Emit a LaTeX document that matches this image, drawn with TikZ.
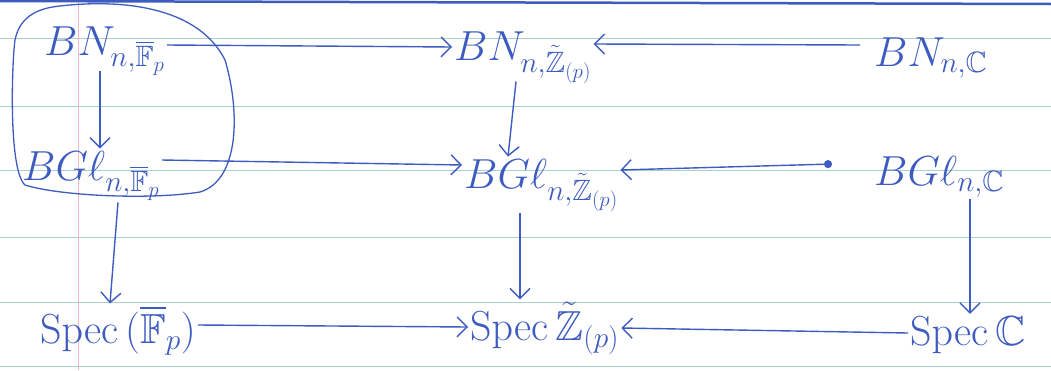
\RequirePackage{fix-cm}
\documentclass[tikz,border=0pt]{standalone}
\usepackage{amsmath,amssymb}
\usetikzlibrary{arrows.meta}
\definecolor{ink}{RGB}{62,92,192}
\definecolor{rulec}{RGB}{170,208,205}
\definecolor{marginc}{RGB}{240,185,195}
\begin{document}
\begin{tikzpicture}[x=1pt,y=-1pt,
  obj/.style={text=ink,font=\fontsize{42}{46}\selectfont,inner sep=2pt,anchor=base west},
  arr/.style={draw=ink,line width=1.4pt,-{Straight Barb[length=10pt,width=20pt,line width=1.4pt]}},
  paper/.style={draw=rulec,line width=0.8pt}]
\useasboundingbox (0,0) rectangle (1051,370);
\fill[white] (0,0) rectangle (1051,370);
\foreach \y in {38,106,170,237,302,366} \draw[paper] (0,\y) -- (1051,\y);
\draw[marginc,line width=0.6pt] (78,0) -- (78,370);
\draw[ink,line width=2.5pt] (0,1) -- (1051,4);
% nodes
\node[obj] (bnf) at (42,55) {$BN_{n,\overline{\mathbb F}_p}$};
\node[obj] (bgf) at (20,180) {$BG\ell_{n,\overline{\mathbb F}_p}$};
\node[obj] (spf) at (38,343) {$\mathrm{Spec}\,(\overline{\mathbb F}_p)$};
\node[obj] (bnz) at (452,60) {$BN_{n,\tilde{\mathbb Z}_{(p)}}$};
\node[obj] (bgz) at (462,188) {$BG\ell_{n,\tilde{\mathbb Z}_{(p)}}$};
\node[obj] (spz) at (468,340) {$\mathrm{Spec}\,\tilde{\mathbb Z}_{(p)}$};
\node[obj] (bnc) at (872,66) {$BN_{n,\mathbb C}$};
\node[obj] (bgc) at (872,185) {$BG\ell_{n,\mathbb C}$};
\node[obj] (spc) at (908,345) {$\mathrm{Spec}\,\mathbb C$};
% loop
\draw[ink,line width=1.3pt] (60,6) .. controls (130,-2) and (200,10) .. (225,60)
  .. controls (240,110) and (240,180) .. (200,192)
  .. controls (150,200) and (60,196) .. (25,185)
  .. controls (8,170) and (12,60) .. (15,40)
  .. controls (20,15) and (40,8) .. (60,6);
% arrows
\draw[arr] (bnf.south -| 100,0) ++(0,-6) -- (bgf.north -| 100,0);
\draw[arr] (bnf.east |- 0,45) -- (bnz.west |- 0,47);
\draw[arr] (bnc.west |- 0,45) ++(-12,0) -- (bnz.east |- 0,44);
\draw[arr] (bnz.south -| 516,0) ++(0,-4) -- (bgz.north -| 508,0);
\draw[arr] (bgf.east |- 0,160) -- (bgz.west |- 0,165);
\draw[arr,{Circle[length=8pt]}-{Straight Barb[length=10pt,width=20pt,line width=1.4pt]}] (bgc.west |- 0,164) ++(-40,0) -- (bgz.east |- 0,170);
\draw[arr] (bgf.south -| 118,0) -- (spf.north -| 110,0);
\draw[arr] (bgz.south -| 520,0) -- (spz.north -| 520,0);
\draw[arr] (bgc.south -| 970,0) -- (spc.north -| 970,0);
\draw[arr] (spf.east |- 0,325) -- (spz.west |- 0,327);
\draw[arr] (spc.west |- 0,333) -- (spz.east |- 0,328);
\end{tikzpicture}
\end{document}
